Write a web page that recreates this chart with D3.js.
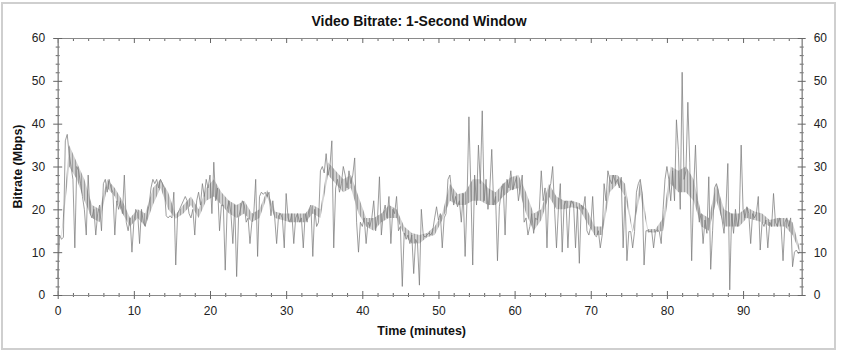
<!DOCTYPE html>
<html>
<head>
<meta charset="utf-8">
<script src="https://cdn.jsdelivr.net/npm/d3@7"></script>
<style>
  html, body { margin: 0; padding: 0; background: #fff; }
  svg { display: block; font-family: Arial, "Liberation Sans", sans-serif; }
</style>
</head>
<body>
<div id="chart"></div>
<script>
// Video bitrate, 1-second window, every 0.25 min (Mbps)
const sampleStep = 0.25;
const bitrate = [
  4, 14, 13, 13.5,   36, 37.5, 33, 30,   27, 11, 30, 29,   26, 23, 20, 14,
  28, 19, 18, 20,    14, 19, 21, 15,     26, 27, 24, 27,   25, 24, 14, 22,
  20, 22, 19, 28,    17, 15, 18, 10,     17, 20, 19, 12,   20, 17, 16, 19,
  21, 25, 27, 26,    27, 25, 27, 26,     25, 18.5, 18, 18.5, 18, 24, 7, 19,
  20, 21, 22, 23,    22, 19, 18, 20,     14, 22, 24, 21,   26, 23, 27, 25,
  28, 19, 31, 22,    25, 15, 21, 21,     5.8, 20, 22, 19,  12, 21, 4.3, 18,
  20, 22, 21, 17,    18, 12, 17, 19,     27, 9, 23, 24,    23.5, 24, 23, 24,
  18.5, 22, 18, 12,  18.5, 19, 18, 11,   23.7, 18, 17, 19, 12, 18, 19, 17,
  18, 11, 19, 17,    20, 21, 9, 20,      16, 17, 29, 30,   28.5, 33, 28, 30,
  36, 11, 25, 27,    24, 26, 30, 28,     25, 29, 26, 28,   32, 17, 10, 17,
  16, 18, 12, 17,    16, 18, 22, 15,     18, 27.6, 14, 19, 21, 18, 23, 12,
  20, 19, 23, 15,    16, 2, 14.5, 13,    14, 12, 14, 5,    13, 12, 2.3, 20,
  14, 13.5, 14, 14.5, 14, 15, 18, 20.6,  17.5, 19, 11, 18, 19, 27, 28, 24,
  21, 23, 20.6, 22,  17, 23.7, 9, 22,    41.6, 25, 7, 28,  21, 35, 26, 43,
  22, 27, 20, 25,    34, 21, 23, 8,      20.6, 24, 26, 14, 27, 25, 29, 24.5,
  26, 27.5, 22, 25,  28, 17, 18, 14,     16, 19, 14.4, 18, 17.5, 20, 29, 22,
  25, 11, 24.5, 26,  30, 20, 11, 20,     26, 10, 21, 22,   11, 20.6, 22, 21,
  11, 20.6, 7.4, 21, 20, 23, 15, 14,     16, 23, 14, 13.6, 15, 11, 14, 26,
  22, 29, 27, 26,    28, 26, 27, 25,     27.5, 11, 23, 8,  14.8, 14.8, 11, 14.8,
  24, 26, 27, 23.7,  7, 15, 15, 14.8,    15, 11, 15, 15.2, 14.8, 12, 20, 27,
  30, 27, 22, 29,    22, 40.9, 34, 20,   52, 27, 29, 45,   31, 8, 24, 35,
  22, 17, 19, 12,    17.5, 14.4, 27.6, 6, 15, 25, 26, 24.5, 20, 17.5, 14.4, 20,
  30.7, 1.2, 19, 14.4, 20, 16, 18, 35,   20, 18, 20.6, 19, 12, 19, 18, 19,
  23, 10.5, 17, 16,  17.5, 11, 17, 16,   23.7, 17, 16, 18, 16, 8, 17, 18,
  16, 18, 6.6, 10,   10.5, 9.7, 10
];

// dense core of the trace, low/high edge per minute (Mbps)
const coreLow = [
  13, 30, 27, 22, 18, 17, 25, 23, 19, 16,
  18, 16, 21, 25, 20, 17.8, 19, 21, 18, 22,
  23, 21, 19, 18, 19, 17, 18, 23, 18, 17.5,
  17, 17, 17, 19, 18, 28, 26, 24, 25, 19,
  16, 15, 17, 18, 18, 14, 12, 12, 13.5, 14,
  17.5, 22, 21, 21, 22, 22, 21, 21, 23, 24.5,
  25, 19, 15, 17.5, 23, 20, 20, 20.5, 20, 17,
  14, 14, 24, 26, 23, 14.5, 23.5, 14.6, 14.6, 15,
  26, 24, 24, 22, 16, 15, 22, 16, 16, 16,
  18, 17.5, 17, 16, 16, 16, 14, 9.7
];
const coreHigh = [
  14.5, 35, 31, 27, 21, 20, 27, 25, 22, 18,
  20, 19, 25, 27, 24, 18.8, 21, 23, 20, 25,
  27, 24, 22, 21, 22, 19, 20, 24.5, 19.5, 19,
  19, 19, 19, 21, 20, 31, 29, 27, 28, 23,
  18, 18, 19, 21, 20, 16, 14.5, 14, 14.5, 16,
  19, 26, 23.5, 24, 27, 27, 25, 24, 26, 27.5,
  28, 24, 19, 20, 26, 23, 22, 22, 21.5, 20,
  16, 16, 28, 28, 26, 15.2, 27, 15.4, 15.4, 18,
  30, 29, 30, 27, 19, 18, 26, 20, 19, 19,
  20.5, 19.5, 19, 17.5, 18, 18, 17, 10.5
];

const xMax = 97.7;
const xTicks = [0, 10, 20, 30, 40, 50, 60, 70, 80, 90];
const yTicks = [0, 10, 20, 30, 40, 50, 60];

const width = 842, height = 352;
const margin = { top: 38, right: 40.3, bottom: 57, left: 57.7 };

const svg = d3.select('#chart').append('svg')
  .attr('width', width)
  .attr('height', height);

// hairline texture for the dense part of the trace
const defs = svg.append('defs');
const pat = defs.append('pattern')
  .attr('id', 'hair')
  .attr('patternUnits', 'userSpaceOnUse')
  .attr('width', 3).attr('height', 4);
pat.append('rect').attr('width', 3).attr('height', 4).attr('fill', '#c4c4c4');
pat.append('rect').attr('width', 1).attr('height', 4).attr('fill', '#8a8a8a');

// outer frame
svg.append('rect')
  .attr('x', 2).attr('y', 3)
  .attr('width', 833).attr('height', 346)
  .attr('fill', '#fff')
  .attr('stroke', '#cfcfcf')
  .attr('stroke-width', 2);

const x = d3.scaleLinear().domain([0, xMax]).range([margin.left, width - margin.right]);
const y = d3.scaleLinear().domain([0, 60]).range([height - margin.bottom, margin.top]);

const minorX = d3.range(0, xMax, 2).filter(v => v % 10 !== 0);
const minorY = d3.range(0, 60, 2).filter(v => v % 10 !== 0);

// ── Data ─────────────────────────────────────────────────
const coreArea = d3.area()
  .x((d, i) => x(Math.min(i + 0.5, xMax)))
  .y0((d, i) => y(coreLow[i]))
  .y1((d, i) => y(coreHigh[i]));

svg.append('path')
  .datum(coreLow)
  .attr('fill', 'url(#hair)')
  .attr('fill-opacity', 0.8)
  .attr('d', coreArea);

const line = d3.line()
  .x((d, i) => x(i * sampleStep))
  .y(d => y(d));

svg.append('path')
  .datum(bitrate)
  .attr('fill', 'none')
  .attr('stroke', '#7c7c7c')
  .attr('stroke-width', 0.75)
  .attr('d', line);

// ── Axes ─────────────────────────────────────────────────
function styleAxis(g) {
  g.select('.domain').attr('stroke', '#8a8a8a');
  g.selectAll('.tick line').attr('stroke', '#666');
  g.selectAll('.tick text')
    .attr('fill', '#222')
    .attr('font-size', 12)
    .attr('font-family', 'Arial, "Liberation Sans", sans-serif');
}

// bottom: ticks cross the axis line
function bottomAxis(vals, size, labels) {
  const g = svg.append('g')
    .attr('transform', `translate(0,${y(0)})`)
    .call(d3.axisBottom(x).tickValues(vals).tickSize(size).tickSizeOuter(0)
      .tickFormat(labels ? d3.format('d') : ''));
  g.selectAll('.tick line').attr('y1', -size);
  g.selectAll('.tick text').attr('dy', '1.05em');
  styleAxis(g);
}
bottomAxis(minorX, 2, false);
bottomAxis(xTicks, 4, true);

// top: ticks inward only
function topAxis(vals, size) {
  const g = svg.append('g')
    .attr('transform', `translate(0,${y(60)})`)
    .call(d3.axisBottom(x).tickValues(vals).tickSize(size).tickSizeOuter(0).tickFormat(''));
  styleAxis(g);
}
topAxis(minorX, 3);
topAxis(xTicks, 5);

function sideAxis(vals, size, labels, right) {
  const axis = right ? d3.axisRight(y) : d3.axisLeft(y);
  const g = svg.append('g')
    .attr('transform', `translate(${right ? x(xMax) : x(0)},0)`)
    .call(axis.tickValues(vals).tickSize(size).tickSizeOuter(0)
      .tickFormat(labels ? d3.format('d') : ''));
  g.selectAll('.tick line').attr('x1', right ? -size : size);
  g.selectAll('.tick text').attr('x', right ? size + 8 : -(size + 8));
  styleAxis(g);
}
sideAxis(minorY, 2, false, false);
sideAxis(yTicks, 4.5, true, false);
sideAxis(minorY, 2, false, true);
sideAxis(yTicks, 4, true, true);

// ── Titles ───────────────────────────────────────────────
svg.append('text')
  .attr('x', 419).attr('y', 26)
  .attr('text-anchor', 'middle')
  .attr('font-size', 14).attr('font-weight', 'bold')
  .attr('fill', '#111')
  .text('Video Bitrate: 1-Second Window');

svg.append('text')
  .attr('x', (x(0) + x(xMax)) / 2 - 8).attr('y', 335)
  .attr('text-anchor', 'middle')
  .attr('font-size', 12.5).attr('font-weight', 'bold')
  .attr('fill', '#111')
  .text('Time (minutes)');

svg.append('text')
  .attr('transform', `translate(22,${(y(0) + y(60)) / 2}) rotate(-90)`)
  .attr('text-anchor', 'middle')
  .attr('font-size', 12.5).attr('font-weight', 'bold')
  .attr('fill', '#111')
  .text('Bitrate (Mbps)');
</script>
</body>
</html>
